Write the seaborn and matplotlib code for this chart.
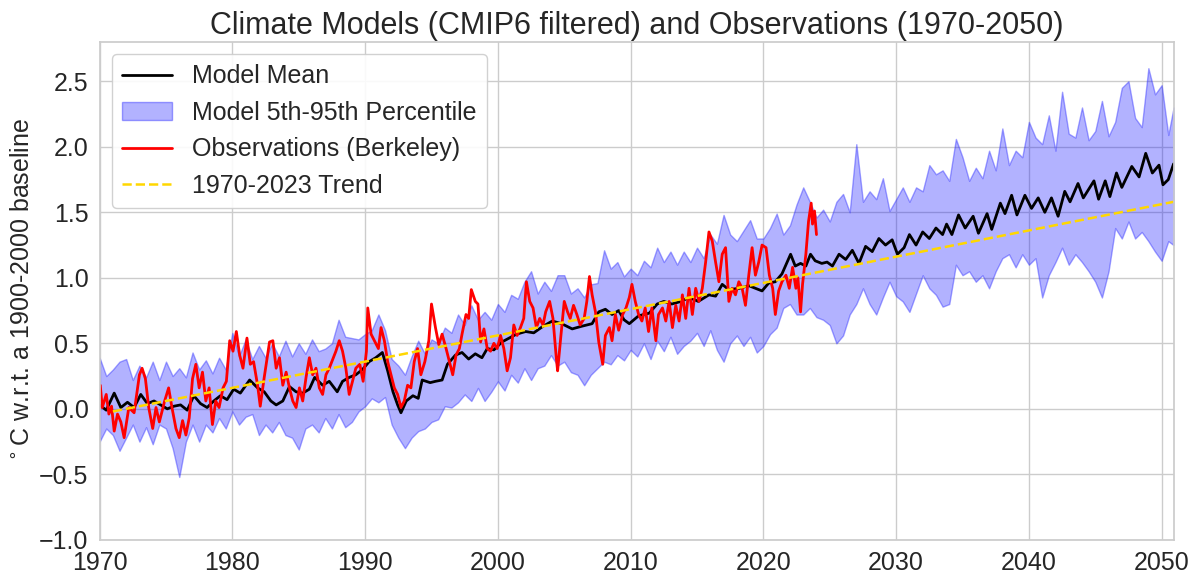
import numpy as np
import pandas as pd
import seaborn as sns
import matplotlib
matplotlib.use('Agg')
import matplotlib.pyplot as plt

# model ensemble, 5th-95th percentile band, sampled every half year
band_years = np.append(np.arange(1970, 2050.6, 0.5), 2050.9)
band_upper = [
    0.39, 0.25, 0.30, 0.36, 0.38, 0.22, 0.33, 0.24, 0.36, 0.22, 0.36, 0.25, 0.31, 0.24, 0.43, 0.30, 0.37, 0.27, 0.39, 0.30,
    0.58, 0.40, 0.53, 0.38, 0.48, 0.39, 0.50, 0.40, 0.52, 0.40, 0.50, 0.42, 0.53, 0.44, 0.46, 0.50, 0.68, 0.55, 0.54, 0.53,
    0.57, 0.60, 0.72, 0.60, 0.38, 0.33, 0.26, 0.40, 0.52, 0.42, 0.53, 0.50, 0.62, 0.58, 0.72, 0.64, 0.79, 0.68, 0.74, 0.68,
    0.80, 0.74, 0.87, 0.84, 0.97, 1.05, 0.88, 0.97, 0.90, 1.02, 1.02, 0.88, 0.92, 0.85, 0.95, 0.96, 1.21, 1.07, 1.12, 1.01,
    1.07, 1.02, 1.13, 1.08, 1.23, 1.12, 1.20, 1.10, 1.20, 1.12, 1.23, 1.15, 1.33, 1.26, 1.48, 1.33, 1.28, 1.36, 1.44, 1.30,
    1.30, 1.38, 1.49, 1.33, 1.40, 1.56, 1.69, 1.58, 1.46, 1.52, 1.43, 1.58, 1.64, 1.50, 2.02, 1.58, 1.66, 1.60, 1.76, 1.51,
    1.60, 1.69, 1.58, 1.69, 1.66, 1.86, 1.79, 1.82, 1.74, 2.06, 1.92, 1.74, 1.84, 1.76, 1.97, 1.82, 2.14, 1.86, 1.97, 1.92,
    2.19, 2.07, 2.02, 2.24, 1.97, 2.42, 2.10, 2.07, 2.30, 2.05, 2.12, 2.35, 2.08, 2.19, 2.45, 2.50, 2.22, 2.15, 2.60, 2.40,
    2.47, 2.09, 2.30,
]
band_lower = [
    -0.25, -0.15, -0.20, -0.32, -0.22, -0.12, -0.25, -0.14, -0.27, -0.12, -0.15, -0.30, -0.52, -0.25, -0.12, -0.25, -0.12, -0.18, -0.07, -0.15,
    -0.02, -0.12, -0.06, -0.04, -0.20, -0.12, -0.18, -0.10, -0.20, -0.22, -0.31, -0.15, -0.12, -0.18, -0.07, -0.15, -0.04, -0.14, -0.10, -0.02,
    0.02, 0.08, 0.05, 0.09, -0.12, -0.22, -0.30, -0.22, -0.17, -0.15, -0.10, -0.08, 0.02, 0.01, 0.05, 0.11, 0.06, 0.16, 0.06, 0.13,
    0.21, 0.14, 0.26, 0.20, 0.31, 0.22, 0.31, 0.33, 0.41, 0.33, 0.36, 0.28, 0.26, 0.18, 0.26, 0.31, 0.36, 0.34, 0.41, 0.37,
    0.45, 0.40, 0.50, 0.38, 0.52, 0.44, 0.55, 0.42, 0.48, 0.52, 0.58, 0.48, 0.60, 0.45, 0.36, 0.50, 0.56, 0.48, 0.55, 0.43,
    0.48, 0.57, 0.62, 0.77, 0.80, 0.72, 0.72, 0.77, 0.70, 0.68, 0.64, 0.50, 0.56, 0.72, 0.80, 0.92, 0.80, 0.72, 0.85, 0.97,
    0.86, 0.82, 0.74, 0.88, 1.02, 0.92, 0.87, 0.78, 0.80, 1.10, 1.02, 1.05, 0.97, 1.02, 0.92, 1.05, 1.15, 1.18, 1.08, 1.18,
    1.10, 1.15, 0.85, 1.02, 1.12, 1.23, 1.10, 1.18, 1.12, 1.05, 0.97, 0.85, 1.05, 1.38, 1.30, 1.43, 1.30, 1.35, 1.28, 1.20,
    1.13, 1.28, 1.25,
]

# model mean
mean_years = [
    1970.0, 1970.5, 1971.1, 1971.6, 1972.1, 1972.6, 1973.1, 1973.6, 1974.1, 1974.6, 1975.1, 1975.6, 1976.1, 1976.6,
    1977.1, 1977.6, 1978.1, 1978.6, 1979.1, 1979.6, 1980.1, 1980.6, 1981.3, 1981.9, 1982.4, 1982.9, 1983.3, 1983.8,
    1984.3, 1984.8, 1985.3, 1985.8, 1986.2, 1986.8, 1987.3, 1987.9, 1988.3, 1988.8, 1989.3, 1989.8, 1990.3, 1990.8,
    1991.3, 1991.7, 1992.1, 1992.45, 1992.7, 1993.1, 1993.6, 1994.0, 1994.3, 1994.9, 1995.3, 1995.8, 1996.2, 1996.8,
    1997.3, 1997.8, 1998.3, 1998.8, 1999.2, 1999.7, 2000.3, 2000.85, 2001.4, 2002.1, 2002.7, 2003.4, 2004.1, 2004.8,
    2005.6, 2006.3, 2007.1, 2007.6, 2008.1, 2008.6, 2009.1, 2009.5, 2009.9, 2010.6, 2011.4, 2012.0, 2012.5, 2013.1,
    2013.8, 2014.4, 2015.1, 2015.9, 2016.4, 2016.9, 2017.4, 2018.2, 2018.9, 2019.4, 2019.9, 2020.4, 2020.9, 2021.4,
    2021.7, 2022.05, 2022.4, 2022.8, 2023.2, 2023.55, 2023.9, 2024.4, 2024.8, 2025.2, 2025.7, 2026.2, 2026.7, 2027.2,
    2027.7, 2028.2, 2028.7, 2029.2, 2029.7, 2030.1, 2030.6, 2031.0, 2031.5, 2032.0, 2032.5, 2033.0, 2033.5, 2033.8,
    2034.2, 2034.7, 2035.2, 2035.8, 2036.2, 2036.85, 2037.2, 2037.85, 2038.2, 2038.7, 2039.1, 2039.7, 2040.2, 2040.7,
    2041.2, 2041.7, 2042.2, 2042.7, 2043.1, 2043.7, 2044.1, 2044.9, 2045.25, 2045.75, 2046.1, 2046.6, 2047.0, 2047.75,
    2048.3, 2048.8, 2049.3, 2049.8, 2050.1, 2050.5, 2050.9,
]
mean_values = [
    0.03, -0.01, 0.12, 0.01, 0.05, 0.01, 0.11, 0.04, 0.06, 0.03, 0.00, 0.02, 0.03, -0.01,
    0.10, 0.04, 0.01, 0.06, 0.10, 0.07, 0.15, 0.12, 0.22, 0.16, 0.13, 0.06, 0.03, 0.06,
    0.17, 0.13, 0.12, 0.15, 0.24, 0.18, 0.21, 0.13, 0.21, 0.24, 0.26, 0.30, 0.36, 0.39,
    0.43, 0.29, 0.13, 0.03, -0.03, 0.06, 0.10, 0.08, 0.22, 0.20, 0.21, 0.22, 0.34, 0.41,
    0.43, 0.38, 0.42, 0.39, 0.46, 0.45, 0.51, 0.54, 0.57, 0.59, 0.58, 0.63, 0.67, 0.65,
    0.61, 0.63, 0.65, 0.74, 0.76, 0.72, 0.75, 0.68, 0.65, 0.71, 0.73, 0.80, 0.82, 0.80,
    0.82, 0.85, 0.82, 0.87, 0.86, 0.95, 0.91, 0.92, 0.94, 0.92, 0.90, 0.96, 0.97, 1.03,
    1.10, 1.18, 1.09, 1.11, 1.09, 1.18, 1.13, 1.11, 1.12, 1.09, 1.18, 1.14, 1.21, 1.11,
    1.24, 1.20, 1.30, 1.25, 1.29, 1.18, 1.23, 1.33, 1.25, 1.35, 1.30, 1.38, 1.33, 1.41,
    1.33, 1.48, 1.38, 1.47, 1.34, 1.49, 1.37, 1.57, 1.49, 1.63, 1.48, 1.63, 1.53, 1.61,
    1.50, 1.61, 1.47, 1.66, 1.58, 1.72, 1.61, 1.74, 1.60, 1.74, 1.62, 1.80, 1.69, 1.85,
    1.77, 1.95, 1.80, 1.86, 1.71, 1.75, 1.87,
]

# Berkeley Earth observations
obs_years = [
    1970.05, 1970.2, 1970.5, 1970.7, 1970.9, 1971.1, 1971.35, 1971.6, 1971.85, 1972.2, 1972.6, 1973.0, 1973.2, 1973.45,
    1973.7, 1974.0, 1974.25, 1974.5, 1974.9, 1975.2, 1975.45, 1975.75, 1976.0, 1976.25, 1976.5, 1976.75, 1977.0, 1977.25,
    1977.5, 1977.75, 1978.0, 1978.25, 1978.5, 1978.75, 1979.0, 1979.3, 1979.55, 1979.8, 1980.05, 1980.3, 1980.55, 1980.8,
    1981.1, 1981.35, 1981.6, 1981.9, 1982.1, 1982.4, 1982.8, 1983.05, 1983.3, 1983.55, 1983.8, 1984.05, 1984.3, 1984.55,
    1984.8, 1985.05, 1985.3, 1985.55, 1985.8, 1986.05, 1986.3, 1986.55, 1986.8, 1987.05, 1987.3, 1987.8, 1988.05, 1988.3,
    1988.55, 1988.8, 1989.05, 1989.3, 1989.6, 1989.85, 1990.1, 1990.2, 1990.45, 1990.7, 1991.0, 1991.2, 1991.45, 1991.7,
    1991.95, 1992.2, 1992.45, 1992.7, 1992.95, 1993.2, 1993.45, 1993.7, 1993.95, 1994.2, 1994.5, 1994.8, 1995.0, 1995.3,
    1995.55, 1995.8, 1996.1, 1996.35, 1996.6, 1996.85, 1997.1, 1997.3, 1997.6, 1997.8, 1998.0, 1998.3, 1998.5, 1998.7,
    1998.95, 1999.2, 1999.45, 1999.7, 1999.95, 2000.2, 2000.45, 2000.7, 2000.95, 2001.2, 2001.45, 2001.7, 2001.95, 2002.15,
    2002.4, 2002.65, 2002.9, 2003.15, 2003.4, 2003.6, 2003.9, 2004.15, 2004.4, 2004.5, 2004.75, 2005.0, 2005.25, 2005.45,
    2005.7, 2005.95, 2006.2, 2006.5, 2006.7, 2006.9, 2007.1, 2007.35, 2007.6, 2007.9, 2008.1, 2008.4, 2008.6, 2008.85,
    2009.1, 2009.4, 2009.65, 2009.9, 2010.1, 2010.35, 2010.6, 2010.85, 2011.1, 2011.35, 2011.6, 2011.9, 2012.1, 2012.4,
    2012.65, 2012.9, 2013.15, 2013.4, 2013.65, 2013.9, 2014.15, 2014.4, 2014.65, 2014.9, 2015.15, 2015.4, 2015.65, 2015.9,
    2016.15, 2016.4, 2016.65, 2016.9, 2017.15, 2017.4, 2017.65, 2017.9, 2018.15, 2018.4, 2018.65, 2018.9, 2019.15, 2019.4,
    2019.65, 2019.9, 2020.2, 2020.45, 2020.7, 2020.9, 2021.15, 2021.4, 2021.7, 2021.95, 2022.2, 2022.45, 2022.6, 2022.8,
    2022.95, 2023.2, 2023.4, 2023.6, 2023.7, 2023.85, 2024.0,
]
obs_values = [
    0.18, 0.01, 0.11, -0.04, 0.02, -0.17, -0.04, -0.10, -0.22, 0.01, -0.03, 0.26, 0.31, 0.23,
    0.01, -0.15, 0.01, -0.10, 0.06, 0.16, 0.01, -0.15, -0.22, -0.09, -0.20, -0.07, 0.23, 0.34,
    0.16, 0.28, 0.06, 0.16, -0.12, 0.06, 0.01, 0.16, 0.21, 0.52, 0.44, 0.59, 0.41, 0.31,
    0.54, 0.34, 0.36, 0.18, 0.02, 0.24, 0.51, 0.52, 0.31, 0.39, 0.18, 0.28, 0.16, 0.06,
    0.01, 0.16, 0.06, 0.24, 0.39, 0.26, 0.31, 0.16, 0.11, 0.26, 0.31, 0.44, 0.52, 0.44,
    0.31, 0.11, 0.21, 0.31, 0.34, 0.21, 0.44, 0.77, 0.57, 0.52, 0.46, 0.62, 0.52, 0.36,
    0.26, 0.16, 0.11, 0.01, 0.06, 0.18, 0.16, 0.36, 0.46, 0.26, 0.36, 0.52, 0.80, 0.62,
    0.49, 0.57, 0.46, 0.36, 0.26, 0.41, 0.46, 0.57, 0.72, 0.69, 0.91, 0.82, 0.80, 0.51,
    0.61, 0.46, 0.44, 0.50, 0.46, 0.56, 0.46, 0.29, 0.39, 0.64, 0.56, 0.62, 0.69, 0.97,
    0.82, 0.77, 0.62, 0.69, 0.64, 0.74, 0.82, 0.69, 0.39, 0.29, 0.56, 0.82, 0.74, 0.69,
    0.79, 0.72, 0.64, 0.69, 0.82, 1.01, 0.87, 0.74, 0.51, 0.34, 0.56, 0.62, 0.52, 0.72,
    0.60, 0.72, 0.77, 0.85, 0.95, 0.82, 0.72, 0.67, 0.77, 0.59, 0.77, 0.52, 0.72, 0.77,
    0.67, 0.82, 0.62, 0.79, 0.67, 0.87, 0.69, 0.92, 0.72, 0.92, 0.82, 0.92, 1.12, 1.35,
    1.28, 1.12, 0.97, 1.18, 1.23, 0.82, 0.92, 0.87, 0.97, 0.92, 0.79, 1.02, 1.23, 1.02,
    1.12, 1.25, 1.23, 1.02, 0.92, 0.72, 0.90, 0.97, 1.02, 0.92, 1.08, 0.92, 1.00, 0.74,
    0.95, 1.18, 1.43, 1.57, 1.41, 1.51, 1.33,
]

# linear trend of the observations, drawn to 2050
trend_years = [1971.0, 2050.9]
trend_values = [-0.02, 1.58]

sns.set_theme(style='whitegrid')
plt.rcParams['font.family'] = ['Liberation Sans', 'DejaVu Sans']

mean_df = pd.DataFrame({'year': mean_years, 'temp': mean_values})
obs_df = pd.DataFrame({'year': obs_years, 'temp': obs_values})
trend_df = pd.DataFrame({'year': trend_years, 'temp': trend_values})

fig, ax = plt.subplots(figsize=(12, 5.83), dpi=100)
sns.lineplot(data=mean_df, x='year', y='temp', color='black', linewidth=2, label='Model Mean', ax=ax)
ax.fill_between(band_years, band_lower, band_upper, facecolor=(0, 0, 1, 0.3),
                edgecolor=(0.2, 0.2, 1, 0.45), linewidth=1, label='Model 5th-95th Percentile')
sns.lineplot(data=obs_df, x='year', y='temp', color='red', linewidth=2, label='Observations (Berkeley)', ax=ax)
sns.lineplot(data=trend_df, x='year', y='temp', color='gold', linewidth=1.8, linestyle='--',
             label='1970-2023 Trend', ax=ax)

ax.set_xlim(1970, 2050.9)
ax.set_ylim(-1.0, 2.8)
ax.set_xticks(range(1970, 2051, 10))
ax.set_yticks(np.arange(-1.0, 2.6, 0.5))
ax.tick_params(labelsize=18, pad=2)
ax.set_title('Climate Models (CMIP6 filtered) and Observations (1970-2050)', fontsize=22)
ax.set_xlabel('')
ax.set_ylabel('$^\\circ$C w.r.t. a 1900-2000 baseline', fontsize=18)
ax.legend(loc='upper left', fontsize=18, facecolor='white', framealpha=0.9)

plt.subplots_adjust(left=0.083, right=0.978, top=0.928, bottom=0.074)
plt.savefig('out.png', dpi=100)
